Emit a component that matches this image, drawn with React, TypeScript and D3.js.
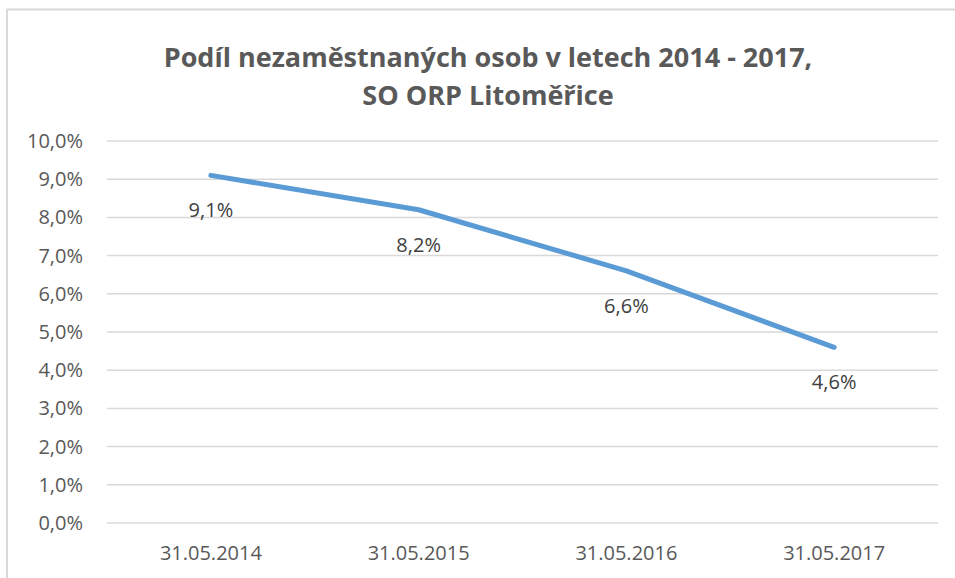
import React, { useEffect, useRef } from "react";
import * as d3 from "d3";

const categories = ["31.05.2014", "31.05.2015", "31.05.2016", "31.05.2017"];
const values = [9.1, 8.2, 6.6, 4.6];
const yTicks = [0, 1, 2, 3, 4, 5, 6, 7, 8, 9, 10];
const titleLines = ["Podíl nezaměstnaných osob v letech 2014 - 2017,", "SO ORP Litoměřice"];

const FONT = "'Open Sans', sans-serif";

function App() {
  const ref = useRef<SVGSVGElement>(null);

  useEffect(() => {
    drawChart();
  });

  const drawChart = () => {
    const svg = d3.select(ref.current);
    svg.selectAll("*").remove();

    const width = 955;
    const height = 578;
    const margin = { top: 141, right: 17, bottom: 55, left: 107 };

    // chart frame (cropped at right and bottom)
    svg
      .append("rect")
      .attr("x", 7)
      .attr("y", 9.5)
      .attr("width", 1000)
      .attr("height", 1000)
      .attr("fill", "#fff")
      .attr("stroke", "#d9d9d9")
      .attr("stroke-width", 2);

    svg
      .append("g")
      .selectAll("text")
      .data(titleLines)
      .join("text")
      .attr("x", 488)
      .attr("y", (d, i) => 67 + i * 38)
      .attr("text-anchor", "middle")
      .attr("font-family", FONT)
      .attr("font-weight", "bold")
      .attr("font-size", 27)
      .attr("fill", "#595959")
      .text(d => d);

    const x = d3
      .scalePoint()
      .domain(categories)
      .range([margin.left, width - margin.right])
      .padding(0.5);

    const y = d3
      .scaleLinear()
      .domain([0, 10])
      .range([height - margin.bottom, margin.top]);

    const grid = svg.append("g");
    grid
      .selectAll("line")
      .data(yTicks)
      .join("line")
      .attr("x1", margin.left)
      .attr("x2", width - margin.right)
      .attr("y1", d => y(d))
      .attr("y2", d => y(d))
      .attr("stroke", "#d9d9d9")
      .attr("stroke-width", 1.5);

    svg
      .append("g")
      .selectAll("text")
      .data(yTicks)
      .join("text")
      .attr("x", 83)
      .attr("y", d => y(d))
      .attr("dy", "0.35em")
      .attr("text-anchor", "end")
      .attr("font-family", FONT)
      .attr("font-size", 20)
      .attr("fill", "#595959")
      .text(d => d3.format(".1f")(d).replace(".", ",") + "%");

    svg
      .append("g")
      .selectAll("text")
      .data(categories)
      .join("text")
      .attr("x", d => x(d)!)
      .attr("y", height - margin.bottom + 30)
      .attr("dy", "0.35em")
      .attr("text-anchor", "middle")
      .attr("font-family", FONT)
      .attr("font-size", 20)
      .attr("fill", "#595959")
      .text(d => d);

    const data = categories.map((c, i) => ({ c, v: values[i] }));

    const myLine = d3
      .line<{ c: string; v: number }>()
      .x(d => x(d.c)!)
      .y(d => y(d.v));

    svg
      .append("path")
      .datum(data)
      .attr("d", myLine)
      .attr("fill", "none")
      .attr("stroke", "#5b9bd5")
      .attr("stroke-width", 5)
      .attr("stroke-linecap", "round")
      .attr("stroke-linejoin", "round");

    svg
      .append("g")
      .selectAll("text")
      .data(data)
      .join("text")
      .attr("x", d => x(d.c)!)
      .attr("y", d => y(d.v) + 35)
      .attr("dy", "0.35em")
      .attr("text-anchor", "middle")
      .attr("font-family", FONT)
      .attr("font-size", 20)
      .attr("fill", "#404040")
      .text(d => d3.format(".1f")(d.v).replace(".", ",") + "%");
  };

  return (
    <svg
      ref={ref}
      width={955}
      height={578}
      style={{ position: "absolute", left: 0, top: 0, background: "#fff" }}
    />
  );
}

export default App;
